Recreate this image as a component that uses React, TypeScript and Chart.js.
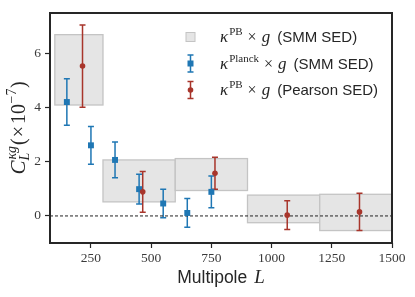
import { useEffect, useRef } from 'react';
import { Chart, registerables } from 'chart.js';

Chart.register(...registerables);

// ---- data ----
const boxLo = [100, 300, 600, 900, 1200];
const boxHi = [300, 600, 900, 1200, 1500];
const boxBottom = [4.1, 0.52, 0.94, -0.25, -0.54];
const boxTop = [6.7, 2.07, 2.12, 0.77, 0.8];

const planckL = [150, 250, 350, 450, 550, 650, 750];
const planckVal = [4.21, 2.61, 2.07, 0.99, 0.46, 0.11, 0.89];
const planckErr = [0.86, 0.7, 0.66, 0.55, 0.53, 0.53, 0.59];

const pearsonL = [215, 465, 765, 1065, 1365];
const pearsonVal = [5.54, 0.89, 1.58, 0.03, 0.15];
const pearsonErr = [1.52, 0.75, 0.59, 0.53, 0.69];

const zeroLineX = [80, 1500];
const zeroLineY = [0, 0];

const xTicks = [250, 500, 750, 1000, 1250, 1500];
const yTicks = [0, 2, 4, 6];
const xRange = [80, 1500];
const yRange = [-1, 7.5];

// ---- styles ----
const BLUE = '#1f77b4';
const RED = '#a8352b';
const INK = '#262626';
const TICK_INK = '#3a3a3a';
const BOX_FILL = '#e5e5e5';
const BOX_EDGE = '#c4c4c4';
const SERIF = '"Liberation Serif", serif';
const SANS = '"Liberation Sans", sans-serif';

type Seg = { t: string; font: string; dy?: number; dx?: number; stack?: boolean };

function drawRich(ctx: CanvasRenderingContext2D, segs: Seg[], x: number, y: number, align: 'left' | 'center') {
  const widths = segs.map((s) => {
    ctx.font = s.font;
    return ctx.measureText(s.t).width;
  });
  let cx = 0;
  let prevStart = 0;
  let maxEnd = 0;
  const starts: number[] = [];
  segs.forEach((s, i) => {
    cx = s.stack ? prevStart : maxEnd;
    cx += s.dx || 0;
    starts.push(cx);
    prevStart = cx;
    maxEnd = Math.max(maxEnd, cx + widths[i]);
  });
  const total = maxEnd;
  const x0 = align === 'center' ? x - total / 2 : x;
  ctx.textBaseline = 'alphabetic';
  ctx.textAlign = 'left';
  segs.forEach((s, i) => {
    ctx.font = s.font;
    ctx.fillText(s.t, x0 + starts[i], y + (s.dy || 0));
  });
}

const errorSets = [
  { xs: planckL, ys: planckVal, es: planckErr, color: BLUE },
  { xs: pearsonL, ys: pearsonVal, es: pearsonErr, color: RED },
];

function drawErrBar(ctx: CanvasRenderingContext2D, x: number, yTop: number, yBot: number, color: string) {
  ctx.strokeStyle = color;
  ctx.lineWidth = 1.5;
  ctx.beginPath();
  ctx.moveTo(x, yTop);
  ctx.lineTo(x, yBot);
  ctx.moveTo(x - 3, yTop);
  ctx.lineTo(x + 3, yTop);
  ctx.moveTo(x - 3, yBot);
  ctx.lineTo(x + 3, yBot);
  ctx.stroke();
}

const backgroundPlugin = {
  id: 'bgBoxesErr',
  beforeDatasetsDraw(chart: any) {
    const { ctx, chartArea, scales } = chart;
    const xs = scales.x;
    const ys = scales.y;
    ctx.save();
    ctx.beginPath();
    ctx.rect(chartArea.left, chartArea.top, chartArea.right - chartArea.left, chartArea.bottom - chartArea.top);
    ctx.clip();
    for (let i = 0; i < boxLo.length; i++) {
      const x1 = xs.getPixelForValue(boxLo[i]);
      const x2 = xs.getPixelForValue(boxHi[i]);
      const y1 = ys.getPixelForValue(boxTop[i]);
      const y2 = ys.getPixelForValue(boxBottom[i]);
      ctx.fillStyle = BOX_FILL;
      ctx.fillRect(x1, y1, x2 - x1, y2 - y1);
      ctx.strokeStyle = BOX_EDGE;
      ctx.lineWidth = 1.3;
      ctx.strokeRect(x1, y1, x2 - x1, y2 - y1);
    }
    for (const s of errorSets) {
      for (let i = 0; i < s.xs.length; i++) {
        const px = xs.getPixelForValue(s.xs[i]);
        const yt = ys.getPixelForValue(s.ys[i] + s.es[i]);
        const yb = ys.getPixelForValue(s.ys[i] - s.es[i]);
        drawErrBar(ctx, px, yt, yb, s.color);
      }
    }
    ctx.restore();
  },
};

const overlayPlugin = {
  id: 'overlay',
  afterDraw(chart: any) {
    const { ctx, chartArea } = chart;
    ctx.save();
    // frame
    ctx.strokeStyle = INK;
    ctx.lineWidth = 2;
    ctx.strokeRect(chartArea.left, chartArea.top, chartArea.right - chartArea.left, chartArea.bottom - chartArea.top);

    ctx.fillStyle = INK;
    // x title
    drawRich(
      ctx,
      [
        { t: 'Multipole', font: `17.5px ${SANS}` },
        { t: 'L', font: `italic 19px ${SERIF}`, dx: 7 },
      ],
      (chartArea.left + chartArea.right) / 2,
      283,
      'center'
    );

    // y title (rotated)
    ctx.save();
    ctx.translate(25, (chartArea.top + chartArea.bottom) / 2);
    ctx.rotate(-Math.PI / 2);
    drawRich(
      ctx,
      [
        { t: 'C', font: `italic 21px ${SERIF}` },
        { t: 'L', font: `italic 14px ${SERIF}`, dy: 4, dx: 0 },
        { t: 'κg', font: `italic 14px ${SERIF}`, dy: -9, dx: 1, stack: true },
        { t: '(', font: `20px ${SERIF}`, dx: 1 },
        { t: '×', font: `20px ${SERIF}`, dx: 1 },
        { t: '10', font: `20px ${SERIF}`, dx: 2 },
        { t: '−7', font: `14px ${SERIF}`, dy: -9, dx: 0.5 },
        { t: ')', font: `20px ${SERIF}`, dx: 0.5 },
      ],
      0,
      0,
      'center'
    );
    ctx.restore();

    // legend
    const mx = 190.5;
    const tx = 220;
    const rows = [37, 63.5, 90];
    ctx.fillStyle = BOX_FILL;
    ctx.fillRect(mx - 4.5, rows[0] - 4.5, 9, 9);
    ctx.strokeStyle = BOX_EDGE;
    ctx.lineWidth = 1;
    ctx.strokeRect(mx - 4.5, rows[0] - 4.5, 9, 9);
    drawErrBar(ctx, mx, rows[1] - 8.5, rows[1] + 8.5, BLUE);
    ctx.fillStyle = BLUE;
    ctx.fillRect(mx - 3, rows[1] - 3, 6, 6);
    drawErrBar(ctx, mx, rows[2] - 8.5, rows[2] + 8.5, RED);
    ctx.fillStyle = RED;
    ctx.beginPath();
    ctx.arc(mx, rows[2], 2.8, 0, Math.PI * 2);
    ctx.fill();

    ctx.fillStyle = INK;
    const labels = [
      { sup: 'PB', tail: '(SMM SED)' },
      { sup: 'Planck', tail: '(SMM SED)' },
      { sup: 'PB', tail: '(Pearson SED)' },
    ];
    labels.forEach((l, i) => {
      drawRich(
        ctx,
        [
          { t: 'κ', font: `italic 17px ${SERIF}` },
          { t: l.sup, font: `11px ${SERIF}`, dy: -7, dx: 1 },
          { t: '×', font: `16px ${SERIF}`, dx: 5 },
          { t: 'g', font: `italic 17px ${SERIF}`, dx: 5 },
          { t: l.tail, font: `15px ${SANS}`, dx: 7 },
        ],
        tx,
        rows[i] + 5,
        'left'
      );
    });
    ctx.restore();
  },
};

export default function App() {
  const ref = useRef<HTMLCanvasElement>(null);
  useEffect(() => {
    const canvas = ref.current!;
    const chart = new Chart(canvas, {
      type: 'scatter',
      data: {
        datasets: [
          {
            label: 'zero',
            data: zeroLineX.map((x, i) => ({ x, y: zeroLineY[i] })),
            showLine: true,
            borderColor: '#222',
            borderWidth: 1,
            borderDash: [3, 2],
            pointRadius: 0,
            order: 3,
          },
          {
            label: 'Planck',
            data: planckL.map((x, i) => ({ x, y: planckVal[i] })),
            pointStyle: 'rect',
            pointRadius: 4.2,
            backgroundColor: BLUE,
            borderColor: BLUE,
            borderWidth: 0,
            order: 2,
          },
          {
            label: 'Pearson',
            data: pearsonL.map((x, i) => ({ x, y: pearsonVal[i] })),
            pointStyle: 'circle',
            pointRadius: 2.8,
            backgroundColor: RED,
            borderColor: RED,
            borderWidth: 0,
            order: 1,
          },
        ],
      },
      options: {
        responsive: false,
        animation: false,
        devicePixelRatio: 1,
        layout: { padding: { top: 13, right: 23, left: 0, bottom: 0 } },
        plugins: { legend: { display: false }, tooltip: { enabled: false }, title: { display: false } },
        scales: {
          x: {
            type: 'linear',
            min: xRange[0],
            max: xRange[1],
            afterFit(scale: any) {
              scale.height = 54;
            },
            afterBuildTicks(scale: any) {
              scale.ticks = xTicks.map((v) => ({ value: v }));
            },
            ticks: {
              autoSkip: false,
              maxRotation: 0,
              padding: 2,
              color: TICK_INK,
              font: { family: SERIF, size: 13.5 },
              callback: (v: any) => String(v),
            },
            grid: { display: true, drawOnChartArea: false, drawTicks: true, tickLength: 5, tickWidth: 1.2, tickColor: INK },
            border: { display: false },
          },
          y: {
            type: 'linear',
            min: yRange[0],
            max: yRange[1],
            afterFit(scale: any) {
              scale.width = 50;
            },
            afterBuildTicks(scale: any) {
              scale.ticks = yTicks.map((v) => ({ value: v }));
            },
            ticks: {
              autoSkip: false,
              padding: 4,
              color: TICK_INK,
              font: { family: SERIF, size: 13.5 },
              callback: (v: any) => String(v),
            },
            grid: { display: true, drawOnChartArea: false, drawTicks: true, tickLength: 5, tickWidth: 1.2, tickColor: INK },
            border: { display: false },
          },
        },
      },
      plugins: [backgroundPlugin, overlayPlugin],
    } as any);
    return () => chart.destroy();
  }, []);
  return (
    <div style={{ position: 'fixed', left: 0, top: 0, width: 415, height: 297, background: '#fff' }}>
      <canvas ref={ref} width={415} height={297} style={{ display: 'block', width: 415, height: 297 }} />
    </div>
  );
}
